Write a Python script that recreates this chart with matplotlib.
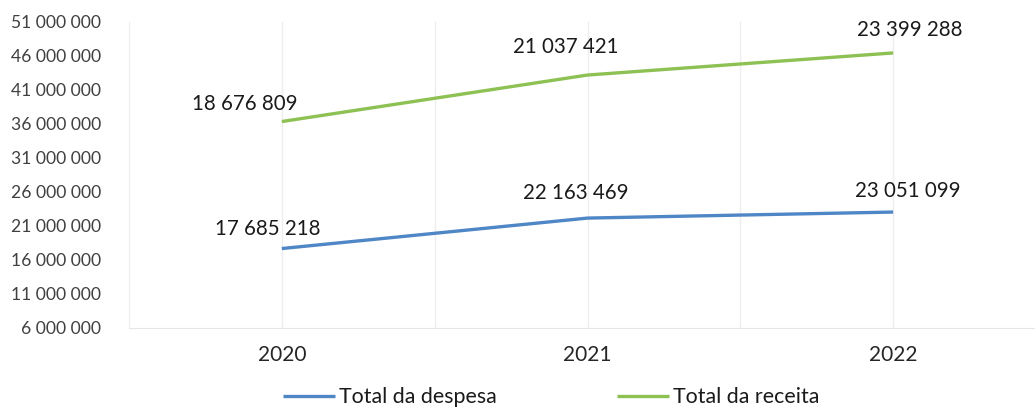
import matplotlib
matplotlib.use("Agg")
import matplotlib.pyplot as plt
import numpy as np
from matplotlib.ticker import FixedLocator, FuncFormatter

plt.rcParams['font.family'] = ['Lato', 'DejaVu Sans']

years = ["2020", "2021", "2022"]
despesa = [17685218, 22163469, 23051099]
receita = [18676809, 21037421, 23399288]
yticks = [6000000, 11000000, 16000000, 21000000, 26000000, 31000000,
          36000000, 41000000, 46000000, 51000000]

def fmt(v):
    return f"{v:,.0f}".replace(",", " ")

fig = plt.figure(figsize=(10.35, 4.09), dpi=100)
W, H = 1035, 409
left, right, top, bottom = 129, 1046, 22, 328
ax = fig.add_axes([left / W, 1 - bottom / H, (right - left) / W, (bottom - top) / H])

x = np.arange(len(years))
desp = np.array(despesa)
stack = desp + np.array(receita)

blue = "#4F86C6"
green = "#8DC153"
ax.plot(x, desp, color=blue, lw=2.4, solid_capstyle='butt', label="Total da despesa", zorder=3)
ax.plot(x, stack, color=green, lw=2.4, solid_capstyle='butt', label="Total da receita", zorder=3)

ax.set_xlim(-0.5, len(years) - 0.5)
ax.set_ylim(yticks[0], yticks[-1])
ax.yaxis.set_major_locator(FixedLocator(yticks))
ax.yaxis.set_major_formatter(FuncFormatter(lambda v, p: fmt(v)))
ax.set_xticks(x)
ax.set_xticklabels(years)
ax.tick_params(axis='y', length=0, pad=20, labelsize=12.6, labelcolor="#404040")
ax.tick_params(axis='x', length=0, pad=12, labelsize=15, labelcolor="#262626")

for s in ['top', 'right', 'left']:
    ax.spines[s].set_visible(False)
ax.spines['bottom'].set_color("#E6E6E6")

for xv in list(x) + list(np.arange(len(years) + 1) - 0.5):
    ax.axvline(xv, color="#EEEEEE", lw=1, zorder=1)

offs_d = [(-14, 20), (-12, 25), (15, 21)]
offs_r = [(-37, 18), (-22, 28), (17, 23)]
for i in range(len(years)):
    ax.annotate(fmt(despesa[i]), (x[i], desp[i]), xytext=offs_d[i], textcoords='offset pixels',
                ha='center', va='center', fontsize=14.8, color="#1A1A1A")
    ax.annotate(fmt(receita[i]), (x[i], stack[i]), xytext=offs_r[i], textcoords='offset pixels',
                ha='center', va='center', fontsize=14.8, color="#1A1A1A")

fs_leg = 15.4
em = fs_leg * 100 / 72
fig.legend(loc='center', bbox_to_anchor=(551 / W, 1 - 397 / H), ncol=2, frameon=False,
           fontsize=fs_leg, handlelength=52 / em, handletextpad=4 / em, columnspacing=120 / em,
           labelcolor="#1A1A1A", borderpad=0, borderaxespad=0)

fig.savefig("out.png", dpi=100, facecolor="white")
